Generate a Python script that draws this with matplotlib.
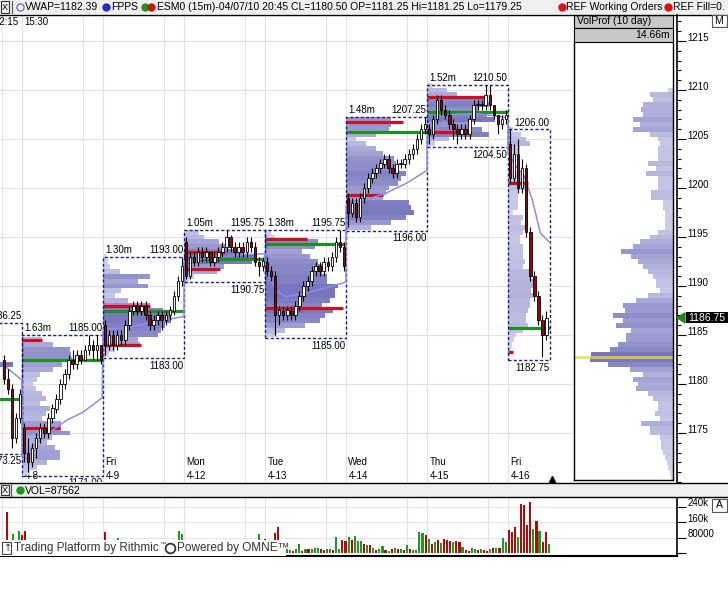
import matplotlib
matplotlib.use("Agg")
import matplotlib.pyplot as plt
from matplotlib.patches import Rectangle, Polygon
from matplotlib.lines import Line2D
from matplotlib.colors import LinearSegmentedColormap
from matplotlib.transforms import blended_transform_factory

plt.rcParams['font.family'] = ['Liberation Sans', 'DejaVu Sans']

# ---------------- data ----------------
day_names = ['Wed', 'Thu', 'Fri', 'Mon', 'Tue', 'Wed', 'Thu', 'Fri']
day_dates = ['4-7', '4-8', '4-9', '4-12', '4-13', '4-14', '4-15', '4-16']
day_open = [1182.5, 1175.5, 1186.0, 1194.5, 1192.5, 1199.0, 1206.0, 1204.5]

close_0407 = [1180.5, 1179.5, 1174.5, 1176.5, 1179]
high_0407 = [1183, 1181.5, 1180, 1177, 1179.5]
low_0407 = [1180, 1179, 1173.5, 1174, 1176]

close_0408 = [1173, 1172, 1173.5, 1174.5, 1175.5, 1175, 1176.5, 1177.5, 1178.5, 1180,
              1181, 1182.5, 1182, 1183, 1182.5, 1183.5, 1184, 1183.5, 1184, 1182.5]
high_0408 = [1176, 1174.5, 1174, 1175, 1176, 1176, 1177, 1178, 1179, 1180.5,
             1181.5, 1183, 1183.5, 1183.5, 1183.5, 1184, 1185, 1184.5, 1185, 1184]
low_0408 = [1172, 1171, 1171.5, 1172.5, 1174, 1174.5, 1174.5, 1176, 1177, 1178,
            1179.5, 1180.5, 1181.5, 1181.5, 1182, 1182.5, 1183, 1182.5, 1182.5, 1182]

close_0409 = [1184, 1185, 1184, 1185, 1184.5, 1186, 1187.5, 1188, 1187.5, 1188,
              1187, 1186, 1186.5, 1187, 1186.5, 1187, 1187.5, 1189, 1190.5, 1192]
high_0409 = [1186.5, 1185.5, 1185.5, 1185.5, 1185.5, 1186.5, 1188, 1188.5, 1188.5, 1188.5,
             1188.5, 1187.5, 1187, 1187.5, 1187.5, 1187.5, 1188, 1189.5, 1191, 1193]
low_0409 = [1183, 1183.5, 1183.5, 1183.5, 1184, 1184, 1185.5, 1187, 1187, 1187,
            1186.5, 1185.5, 1185.5, 1186, 1185.5, 1186, 1186.5, 1187, 1188.5, 1190]

close_0412 = [1191, 1193, 1192.5, 1193.5, 1193, 1193.5, 1192.5, 1193, 1193.5, 1194,
              1195, 1194, 1193.5, 1194, 1193.5, 1194.5, 1194, 1192.5, 1192, 1192.5]
high_0412 = [1195, 1193.5, 1193.5, 1194, 1194, 1194, 1193.5, 1193.5, 1194, 1194.5,
             1195.75, 1195.25, 1194.5, 1194.5, 1194.5, 1195, 1195, 1194.5, 1193, 1193]
low_0412 = [1190.75, 1190.75, 1192, 1192, 1192.5, 1192.5, 1192, 1192, 1192.5, 1193,
            1193.5, 1193.5, 1193, 1193, 1193, 1193, 1193.5, 1192, 1191, 1191.5]

close_0413 = [1191.5, 1191, 1187, 1187.5, 1187, 1187.5, 1187, 1188, 1189, 1190,
              1190.5, 1191.5, 1192, 1191.5, 1192.5, 1192, 1193, 1194.5, 1194, 1192]
high_0413 = [1193, 1192, 1191.5, 1188, 1188, 1188, 1188, 1188.5, 1189.5, 1190.5,
             1191, 1192, 1192.5, 1192.5, 1193, 1193, 1193.5, 1195, 1195.75, 1194.5]
low_0413 = [1191, 1190.5, 1185, 1186, 1186.5, 1186.5, 1186.5, 1186.5, 1187.5, 1188.5,
            1189.5, 1190, 1191, 1191, 1191, 1191.5, 1191.5, 1192.5, 1193.5, 1191.5]

close_0414 = [1197.5, 1198.5, 1197, 1199, 1200, 1201, 1201.5, 1202, 1202.5, 1203,
              1202, 1201.5, 1202.5, 1202.5, 1203, 1203.5, 1204, 1205, 1206, 1206.5]
high_0414 = [1199.5, 1199, 1199, 1199.5, 1200.5, 1201.5, 1202, 1202.5, 1203, 1203.5,
             1203.5, 1202.5, 1203, 1203, 1203.5, 1204, 1204.5, 1205.5, 1206.5, 1207.25]
low_0414 = [1196, 1197, 1196.5, 1196.5, 1198.5, 1199.5, 1200.5, 1201, 1201.5, 1202,
            1201.5, 1201, 1201, 1202, 1202, 1202.5, 1203, 1203.5, 1204.5, 1205.5]

close_0415 = [1205.5, 1207, 1209, 1208, 1207.5, 1206.5, 1206, 1205.5, 1206, 1205.5,
              1207, 1208.5, 1208.5, 1208.5, 1209.5, 1208.5, 1207.5, 1206.5, 1207, 1207.5]
high_0415 = [1206.5, 1207.5, 1209.5, 1209.5, 1208.5, 1208, 1207, 1206.5, 1206.5, 1206.5,
             1207.5, 1209, 1209, 1209, 1210.5, 1210.5, 1208.5, 1207.5, 1207.5, 1208]
low_0415 = [1204.5, 1205, 1206.5, 1207.5, 1207, 1206, 1205, 1204.5, 1205, 1205,
            1205, 1206.5, 1208, 1208, 1208, 1208, 1207, 1205.5, 1206, 1206.5]

close_0416 = [1201, 1203.5, 1200, 1202, 1195.5, 1191, 1189, 1186.5, 1185, 1186.75]
high_0416 = [1206, 1204.5, 1205, 1203, 1202.5, 1196, 1191.5, 1189.5, 1187, 1187.5]
low_0416 = [1200.5, 1200.5, 1199.5, 1199.5, 1195, 1190.5, 1188.5, 1186, 1182.75, 1184.5]

# daily profile box: high / low / volume
day_high = [1186.25, 1185.00, 1193.00, 1195.75, 1195.75, 1207.25, 1210.50, 1206.00]
day_low = [1173.25, 1171.00, 1183.00, 1190.75, 1185.00, 1196.00, 1204.50, 1182.75]
day_vol = ['', '1.63m', '1.30m', '1.05m', '1.38m', '1.48m', '1.52m', '']

# daily volume profiles (top price, row volumes every 0.5 pt, relative units)
prof_top = [1182.0, 1184.5, 1193.0, 1195.5, 1195.5, 1207.0, 1210.5, 1206.0]
prof_0407 = [72]
prof_0408 = [20, 31, 48, 49, 50, 40, 31, 18, 15, 11, 14, 20, 24, 18, 28, 24, 20, 39, 39, 48,
             30, 25, 33, 38, 38, 25, 15, 8]
prof_0409 = [3, 5, 7, 17, 47, 35, 45, 18, 12, 25, 47, 60, 68, 68, 62, 58, 55, 35, 37, 12, 6]
prof_0412 = [15, 20, 35, 43, 60, 70, 68, 40, 33, 10, 5]
prof_0413 = [6, 10, 53, 50, 37, 45, 53, 57, 57, 62, 62, 73, 70, 70, 65, 57, 68, 60, 55, 40,
             20, 12]
prof_0414 = [45, 45, 43, 30, 10, 20, 30, 37, 48, 50, 52, 60, 55, 52, 43, 40, 37, 63, 65, 68,
             60, 45, 25]
prof_0415 = [5, 20, 30, 58, 62, 52, 60, 68, 45, 55, 62, 22, 8]
prof_0416 = [5, 13, 18, 22, 12, 12, 8, 8, 8, 13, 13, 17, 17, 10, 10, 10, 10, 5, 15, 13,
             18, 15, 12, 12, 15, 15, 15, 17, 15, 22, 22, 25, 25, 23, 25, 22, 22, 20, 18, 18,
             20, 15, 8, 6, 4, 3, 2]

# point of control (green) and the two red levels, with red lengths in bars
poc_price = [1178.5, 1182.5, 1187.5, 1192.75, 1194.25, 1205.75, 1207.75, 1185.75]
red_hi_price = [None, 1184.5, 1188.0, 1193.5, 1194.75, 1206.75, 1209.25, 1200.5]
red_hi_len = [0, 4.9, 11.6, 10.1, 10.4, 14.1, 14.8, 5.0]
red_lo_price = [None, 1175.5, 1184.0, 1191.75, 1187.75, 1199.25, 1205.75, 1183.25]
red_lo_len = [0, 9.4, 9.4, 8.9, 19.3, 9.1, 9.4, 1.2]

# VWAP polyline (bar position, price)
vwap_bar = [-5.4, -3, 0, 0, 2.7, 6.9, 11, 15, 19.8, 20, 25, 30, 35, 40, 40, 45, 50, 55, 60,
            60, 62.5, 65, 70, 75, 80, 80, 85, 90, 95, 100, 100, 103, 106, 112, 120,
            120, 122, 124, 126, 128, 130.4]
vwap_price = [1182.2, 1181.4, 1180.4, 1172.6, 1173.6, 1175.1, 1176.3, 1177.1, 1178.6, 1185.6,
              1185.7, 1186.1, 1186.5, 1186.9, 1192.5, 1192.8, 1193.0, 1193.2, 1193.3,
              1192.4, 1189.6, 1188.9, 1189.3, 1189.8, 1190.4, 1198.2, 1198.8, 1199.5, 1200.5,
              1201.8, 1205.2, 1206.4, 1207.5, 1207.6, 1207.2,
              1203.6, 1202.2, 1201.2, 1198.8, 1195.4, 1194.4]

# 10 day volume profile (top price 1210, rows every 0.5 pt)
vp_top = 1210.0
vp_vol = [5, 23, 20, 30, 32, 30, 40, 33, 40, 23,
          15, 13, 15, 15, 15, 25, 17, 27, 15, 15,
          15, 22, 22, 10, 10, 8, 8, 8, 8, 15,
          23, 33, 40, 52, 42, 35, 30, 25, 20, 17,
          17, 13, 25, 37, 50, 48, 60, 50, 57, 42,
          47, 47, 55, 63, 82, 83, 65, 43, 30, 40,
          35, 37, 25, 20, 15, 15, 18, 13, 32, 23,
          23, 13, 12, 12, 10, 8, 6, 5, 3, 2]
vp_poc = 1182.75
last_price = 1186.75

# volume bars (thousands), bar slot index, up (1) / down (0)
vol_idx_early = [0, 2, 4, 5, 6, 32, 36, 56, 57, 82, 84, 87, 88]
vol_early = [214, 100, 115, 94, 115, 110, 80, 115, 100, 100, 75, 105, 137]
up_early = [0, 1, 1, 0, 0, 0, 1, 1, 1, 1, 0, 0, 0]
vol_first_idx = 91
vol_late = [20, 15, 10, 18, 47, 10, 22, 18, 18, 25, 28, 18, 15, 18, 18, 15, 82, 20, 65, 60,
            82, 68, 88, 60, 60, 48, 40, 40, 25, 15, 22, 38, 15, 10, 18, 28, 22, 18, 15, 40,
            18, 15, 15, 108, 103, 95, 72, 45, 55, 68, 52, 72, 65, 60, 55, 60, 55, 32, 15, 10,
            27, 22, 15, 18, 15, 10, 18, 25, 28, 25, 77, 55, 120, 108, 133, 85, 255, 250, 147, 265,
            124, 167, 117, 55, 110, 45]
up_late = [1, 1, 0, 1, 1, 0, 1, 0, 1, 1, 1, 0, 0, 1, 1, 0, 1, 1, 0, 0,
           1, 0, 1, 1, 1, 0, 1, 0, 1, 0, 1, 1, 0, 1, 0, 1, 0, 1, 0, 1,
           0, 1, 1, 1, 1, 0, 1, 0, 1, 0, 1, 0, 0, 0, 1, 0, 0, 1, 0, 0,
           1, 1, 0, 1, 0, 0, 1, 0, 1, 0, 1, 1, 0, 0, 0, 1, 0, 0, 0, 0,
           1, 0, 1, 0, 0, 1]

closes = [close_0407, close_0408, close_0409, close_0412, close_0413, close_0414, close_0415, close_0416]
highs = [high_0407, high_0408, high_0409, high_0412, high_0413, high_0414, high_0415, high_0416]
lows = [low_0407, low_0408, low_0409, low_0412, low_0413, low_0414, low_0415, low_0416]
profs = [prof_0407, prof_0408, prof_0409, prof_0412, prof_0413, prof_0414, prof_0415, prof_0416]

# ---------------- layout ----------------
W, H = 728, 615
U = 4.05        # px per bar
X0 = 22         # px where 4-8 starts
VOL_X0, VOL_DX = 6.7, 3.08


def price_at(py):
    return 1215 - (py - 41) / 9.8


fig = plt.figure(figsize=(W / 100, H / 100), dpi=100)
fig.patch.set_facecolor('white')


def fx(px):
    return px / W


def fy(py):
    return 1 - py / H


def axes_px(x0, y0, x1, y1):
    return fig.add_axes([x0 / W, 1 - y1 / H, (x1 - x0) / W, (y1 - y0) / H])


def fig_line(x0, y0, x1, y1, color='black', lw=1.0, z=3):
    fig.add_artist(Line2D([fx(x0), fx(x1)], [fy(y0), fy(y1)], transform=fig.transFigure,
                          color=color, lw=lw, zorder=z))


def fig_rect(x0, y0, x1, y1, fc, ec='none', lw=0.8, z=1):
    fig.add_artist(Rectangle((fx(x0), fy(y1)), (x1 - x0) / W, (y1 - y0) / H,
                             transform=fig.transFigure, fc=fc, ec=ec, lw=lw, zorder=z))


def dot(x, y, c, ec=None):
    fig.add_artist(Line2D([fx(x)], [fy(y)], marker='o', ms=5.2, mfc=c, mec=ec or c,
                          mew=0.8, transform=fig.transFigure, zorder=4))


prof_cmap = LinearSegmentedColormap.from_list('vp', ['#d6d6ee', '#a4a4d6', '#7676bc'])

# ---------------- main price chart ----------------
ax = axes_px(0, 15, 573, 482)
ax.set_xlim(-X0 / U, (573 - X0) / U)
ax.set_ylim(price_at(482), price_at(15))
ax.axis('off')

starts = []
s = -len(close_0407)
for c in closes:
    starts.append(s)
    s += len(c)

for p in range(1175, 1220, 5):
    ax.axhline(p, color='#e2e2e2', lw=0.8, zorder=0)

last = len(day_dates) - 1
xt = blended_transform_factory(ax.transData, ax.transAxes)
for k in range(len(day_dates)):
    n = len(closes[k])
    end = starts[k] + n
    box_l = end - 20 if k == 0 else starts[k]
    box_r = end + 0.4 if k == last else end
    ax.axvline(box_l, color='#e2e2e2', lw=0.8, zorder=0)
    if box_l + 15 < 125:
        ax.axvline(box_l + 15, color='#e2e2e2', lw=0.8, zorder=0)

    # day labels (the first day starts off the left edge)
    if k > 0:
        ax.text(box_l + 0.6, 0.043, day_names[k], transform=xt, fontsize=7, va='center', zorder=1)
        ax.text(box_l + 0.6, 0.013, day_dates[k], transform=xt, fontsize=7, va='center', zorder=1)

    # volume profile rows
    prof = profs[k]
    for j, v in enumerate(prof):
        p = prof_top[k] - 0.5 * j
        ax.barh(p, v / U, left=box_l, height=0.5, color=prof_cmap(min(v / 70.0, 1.0)),
                lw=0, zorder=2)

    # POC and red levels
    ax.plot([box_l, box_r], [poc_price[k]] * 2, color='#1f8f1f', lw=2.3,
            solid_capstyle='butt', zorder=3)
    if red_hi_price[k] is not None:
        ax.plot([box_l, box_l + red_hi_len[k]], [red_hi_price[k]] * 2, color='#cc1020',
                lw=2.3, solid_capstyle='butt', zorder=3)
        ax.plot([box_l, box_l + red_lo_len[k]], [red_lo_price[k]] * 2, color='#cc1020',
                lw=2.3, solid_capstyle='butt', zorder=3)

    # dashed box
    ax.add_patch(Rectangle((box_l, day_low[k] - 0.35), box_r - box_l,
                           day_high[k] - day_low[k] + 0.35, fill=False, ec='#1a1a8c',
                           lw=1.0, ls=(0, (2.2, 1.6)), zorder=4))
    ax.annotate(f'{day_high[k]:.2f}', (box_r, day_high[k]), xytext=(-0.3, 1.2),
                textcoords='offset points', ha='right', va='bottom', fontsize=7, zorder=7)
    lo_lab = ax.annotate(f'{day_low[k]:.2f}', (box_r, day_low[k] - 0.35), xytext=(-0.3, -2.0),
                         textcoords='offset points', ha='right', va='top', fontsize=7, zorder=7,
                         annotation_clip=False)
    lo_lab.set_clip_box(ax.bbox)
    lo_lab.set_clip_on(True)
    if day_vol[k]:
        ax.annotate(day_vol[k], (box_l, day_high[k]), xytext=(1.5, 1.2),
                    textcoords='offset points', ha='left', va='bottom', fontsize=7, zorder=7)

# VWAP
ax.plot(vwap_bar, vwap_price, color='#8c8cf0', lw=1.1, zorder=4.5)

# candles
for k in range(len(day_dates)):
    o = day_open[k]
    for i, (c, h, l) in enumerate(zip(closes[k], highs[k], lows[k])):
        x = starts[k] + i + 0.5
        ax.vlines(x, l, h, color='black', lw=0.8, zorder=5)
        body = c - o if abs(c - o) > 0.05 else 0.1
        ax.bar(x, body, bottom=o, width=0.62, color='white' if c >= o else '#8b0a0a',
               edgecolor='black', lw=0.6, zorder=6)
        o = c

fig.text(fx(-6), fy(22), '12:15', fontsize=7, va='center')
fig.text(fx(24), fy(22), '15:30', fontsize=7, va='center')

# ---------------- 10 day volume profile panel ----------------
axp = axes_px(574, 42, 673, 480)
axp.set_xlim(99, 0)
axp.set_ylim(price_at(480), price_at(42))
axp.set_xticks([])
axp.set_yticks([])
for sp in axp.spines.values():
    sp.set_color('black')
    sp.set_linewidth(1.0)
axp.spines['top'].set_visible(False)
for j, v in enumerate(vp_vol):
    p = vp_top - 0.5 * j
    axp.barh(p, v, left=0, height=0.5, color=prof_cmap(min(v / 80.0, 1.0)), lw=0)
axp.axhline(vp_poc, color='#e6dc30', lw=2.2, alpha=0.75)

fig_rect(574, 15, 673, 28, '#c8c8c8', 'black', 0.8, z=2)
fig_rect(574, 28, 673, 42, '#c8c8c8', 'black', 0.8, z=2)
fig.text(fx(577), fy(21.5), 'VolProf (10 day)', fontsize=7.5, va='center', zorder=5)
fig.text(fx(670), fy(35), '14.66m', fontsize=7.5, va='center', ha='right', zorder=5)

# ---------------- price scale ----------------
axs = axes_px(677, 15, 728, 482)
axs.set_ylim(price_at(482), price_at(15))
axs.set_xlim(0, 1)
for name, sp in axs.spines.items():
    sp.set_visible(name == 'left')
axs.spines['left'].set_linewidth(1.2)
axs.set_xticks([])
major = list(range(1175, 1220, 5))
axs.set_yticks(major)
axs.set_yticks(range(1170, 1218), minor=True)
axs.tick_params(axis='y', which='major', direction='in', length=6.5, width=0.8, labelleft=False)
axs.tick_params(axis='y', which='minor', direction='in', length=3, width=0.8)
st = blended_transform_factory(axs.transAxes, axs.transData)
for p in major:
    axs.annotate(str(p), (0.2, p), xycoords=st, xytext=(0, 2.5), textcoords='offset points',
                 fontsize=7, va='center', ha='left')

# last price marker
yl = axs.transData.transform((0, last_price))[1]
ylp = H - yl
fig_rect(686, ylp - 5.5, 728, ylp + 5.5, 'black', z=5)
fig.text(fx(688), fy(ylp), f'{last_price:.2f}', color='white', fontsize=7.5, va='center', zorder=6)
fig.add_artist(Polygon([(fx(677), fy(ylp)), (fx(685), fy(ylp - 5)), (fx(685), fy(ylp + 5))],
                       closed=True, transform=fig.transFigure, fc='#1a8a1a', ec='#1a8a1a',
                       zorder=6))

# ---------------- volume panel ----------------
axv = axes_px(0, 497, 677, 556)
axv.set_xlim(-X0 / U, (677 - X0) / U)
axv.set_ylim(-16, 292)
for name, sp in axv.spines.items():
    sp.set_visible(name in ('right', 'bottom'))
axv.spines['right'].set_linewidth(1.2)
axv.spines['bottom'].set_linewidth(1.5)
axv.set_xticks([])
axv.yaxis.tick_right()
axv.set_yticks([0, 80, 160, 240])
axv.tick_params(axis='y', direction='out', length=6.5, width=0.8, labelright=False)
for g in [80, 160, 240]:
    axv.axhline(g, color='#e6e6e6', lw=0.8, zorder=0)
for k in range(len(day_dates)):
    n = len(closes[k])
    box_l = starts[k] + n - 20 if k == 0 else starts[k]
    axv.axvline(box_l, color='#e2e2e2', lw=0.8, zorder=0)
    if box_l + 15 < 125:
        axv.axvline(box_l + 15, color='#e2e2e2', lw=0.8, zorder=0)
vt = blended_transform_factory(axv.transAxes, axv.transData)
for g, lab in [(240, '240k'), (160, '160k'), (80, '80000')]:
    axv.annotate(lab, (1.0, g), xycoords=vt, xytext=(7.5, 2.5), textcoords='offset points',
                 fontsize=7, va='center', ha='left', annotation_clip=False)

axb = axv.twiny()
axb.set_xlim(-VOL_X0 / VOL_DX, (677 - VOL_X0) / VOL_DX)
axb.axis('off')
late_idx = list(range(vol_first_idx, vol_first_idx + len(vol_late)))
for idxs, vals, ups in [(vol_idx_early, vol_early, up_early), (late_idx, vol_late, up_late)]:
    axb.bar(idxs, vals, width=0.68, color=['#1e9a1e' if u else '#b00a0a' for u in ups], lw=0)

# watermark over the volume bars
fig_rect(0, 540, 286, 555.5, 'white', z=2)
fig_rect(2, 542, 11, 554, 'white', '#444444', 0.8, z=3)
fig.text(fx(3.5), fy(548), '\u2191', fontsize=7, va='center', color='#333333', zorder=4,
         family=['DejaVu Sans'])
fig.text(fx(14), fy(548), 'Trading Platform by Rithmic', fontsize=8.5, va='center',
         color='#333333', zorder=4)
fig.text(fx(159), fy(544.5), '\u2122', fontsize=4.5, va='center', color='#333333', zorder=4)
fig.add_artist(Line2D([fx(170)], [fy(548)], marker='o', ms=7, mfc='white', mec='#333333',
                      mew=1.3, transform=fig.transFigure, zorder=4))
fig.text(fx(177), fy(548), 'Powered by OMNE\u2122', fontsize=8.5, va='center',
         color='#333333', zorder=4)

# ---------------- frames, headers ----------------
fig_rect(0, 0, 728, 14, '#efefef', z=2)
fig_line(0, 14.5, 728, 14.5, 'black', 1.0)
fig_rect(1, 1.5, 9, 12.5, '#efefef', '#333333', 0.8, z=3)
fig.text(fx(2.2), fy(7.3), 'X', fontsize=6.5, va='center', zorder=5)
fig_line(12, 1, 12, 13, '#555555', 0.8, z=4)
dot(20, 7, '#eeeeff', '#5a5aa0')
fig.text(fx(25), fy(7.5), 'VWAP=1182.39', fontsize=7.5, va='center', zorder=5)
dot(106, 7, '#2a2ac8')
fig.text(fx(111), fy(7.5), 'FPPS', fontsize=7.5, va='center', zorder=5)
dot(145, 7, '#1a9a1a')
dot(151, 7, '#d01010')
fig.text(fx(157), fy(7.5), 'ESM0 (15m)-04/07/10 20:45 CL=1180.50 OP=1181.25 Hi=1181.25 Lo=1179.25',
         fontsize=7.5, va='center', zorder=5)
dot(562, 7, '#e01010')
fig.text(fx(566), fy(7.5), 'REF Working Orders', fontsize=7.5, va='center', zorder=5)
dot(668, 7, '#e01010')
fig.text(fx(673), fy(7.5), 'REF Fill=0.', fontsize=7.5, va='center', zorder=5)

fig_rect(712, 15, 727, 27, 'white', '#555555', 0.8, z=3)
fig.text(fx(714.5), fy(21.5), 'M', fontsize=7.5, va='center', zorder=5)

fig_line(0, 482.5, 728, 482.5, 'black', 1.0)
fig_rect(0, 483, 728, 497, '#efefef', z=2)
fig_line(0, 497, 728, 497, 'black', 1.0)
fig_rect(1, 485, 9, 495, '#efefef', '#333333', 0.8, z=3)
fig.text(fx(2.2), fy(490.3), 'X', fontsize=6.5, va='center', zorder=5)
fig_line(11, 484, 11, 496, '#555555', 0.8, z=4)
dot(20, 490, '#1a9a1a')
fig.text(fx(25), fy(490.5), 'VOL=87562', fontsize=7.5, va='center', zorder=5)

fig_rect(712, 499, 727, 512, 'white', '#555555', 0.8, z=3)
fig.text(fx(715.5), fy(505.5), 'A', fontsize=7.5, va='center', zorder=5)

fig.add_artist(Line2D([fx(552)], [fy(479)], marker='^', ms=4.5, color='black',
                      transform=fig.transFigure, zorder=4))

fig.savefig('out.png', dpi=100)
